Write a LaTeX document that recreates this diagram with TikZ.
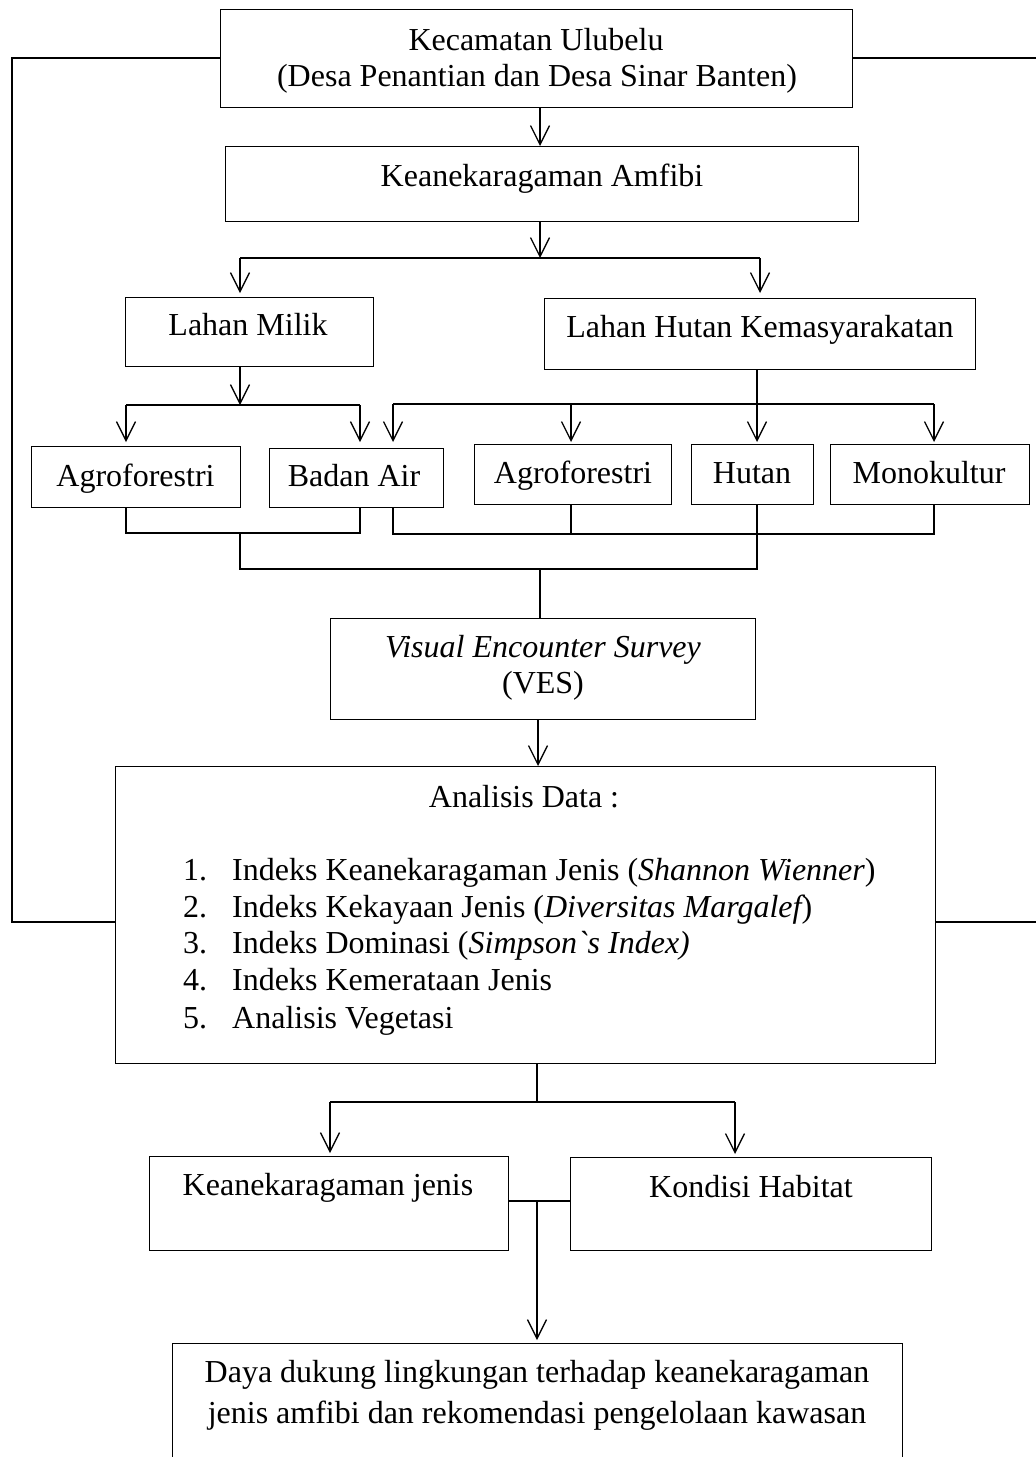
\documentclass[tikz,border=0pt]{standalone}
\usepackage{fontspec}
\setmainfont{Liberation Serif}
\usetikzlibrary{arrows.meta}
\begin{document}
\begin{tikzpicture}[x=1pt,y=-1pt,
  box/.style={draw=black, line width=1pt, inner sep=0pt, anchor=north west},
  txt/.style={anchor=base, inner sep=0pt, font=\fontsize{32}{36}\selectfont},
  ltxt/.style={txt, anchor=base west},
  conn/.style={line width=1.3pt},
  arr/.style={conn, -{Straight Barb[length=19pt,width=19pt,line width=1.3pt]}},
]
\clip (0,0) rectangle (1036,1457);
\fill[white] (0,0) rectangle (1036,1457);

% boxes
\node[box, minimum width=632pt, minimum height=98pt] (top) at (220,9) {};
\node[box, minimum width=633pt, minimum height=75pt] (amf) at (225,146) {};
\node[box, minimum width=248pt, minimum height=69pt] (milik) at (125,297) {};
\node[box, minimum width=431pt, minimum height=71pt] (hutanK) at (544,298) {};
\node[box, minimum width=209pt, minimum height=61pt] (agro1) at (31,446) {};
\node[box, minimum width=174pt, minimum height=59pt] (badan) at (269,448) {};
\node[box, minimum width=197pt, minimum height=60pt] (agro2) at (474,444) {};
\node[box, minimum width=122pt, minimum height=60pt] (hutan) at (691,444) {};
\node[box, minimum width=199pt, minimum height=60pt] (mono) at (830,444) {};
\node[box, minimum width=425pt, minimum height=101pt] (ves) at (330,618) {};
\node[box, minimum width=820pt, minimum height=297pt] (anal) at (115,766) {};
\node[box, minimum width=359pt, minimum height=94pt] (kj) at (149,1156) {};
\node[box, minimum width=361pt, minimum height=93pt] (kh) at (570,1157) {};
\node[box, minimum width=730pt, minimum height=140pt] (daya) at (172,1343) {};

% texts
\node[txt] (t1a) at (536,50) {Kecamatan Ulubelu};
\node[txt] (t1b) at (537,86) {(Desa Penantian dan Desa Sinar Banten)};
\node[txt] (t2) at (542,186) {Keanekaragaman Amfibi};
\node[txt] (t3) at (248,335) {Lahan Milik};
\node[txt] (t4) at (760,337) {Lahan Hutan Kemasyarakatan};
\node[txt] (t5) at (135.5,486) {Agroforestri};
\node[txt] (t6) at (354,486) {Badan Air};
\node[txt] (t7) at (573,483) {Agroforestri};
\node[txt] (t8) at (752,483) {Hutan};
\node[txt] (t9) at (929,483) {Monokultur};
\node[txt] (t10) at (543,657) {\textit{Visual Encounter Survey}};
\node[txt] (t11) at (543,693) {(VES)};
\node[txt] (t12) at (524,807) {Analisis Data :};
\node[ltxt] (n1) at (183,880) {1.};
\node[ltxt] (n2) at (183,917) {2.};
\node[ltxt] (n3) at (183,953) {3.};
\node[ltxt] (n4) at (183,990) {4.};
\node[ltxt] (n5) at (183,1028) {5.};
\node[ltxt] (i1) at (232,880) {Indeks Keanekaragaman Jenis ({\itshape Shannon Wienner})};
\node[ltxt] (i2) at (232,917) {Indeks Kekayaan Jenis ({\itshape Diversitas Margalef})};
\node[ltxt] (i3) at (232,953) {Indeks Dominasi ({\itshape Simpson\textasciigrave s Index)}};
\node[ltxt] (i4) at (232,990) {Indeks Kemerataan Jenis};
\node[ltxt] (i5) at (232,1028) {Analisis Vegetasi};
\node[txt] (t13) at (328,1195) {Keanekaragaman jenis};
\node[txt] (t14) at (751,1197) {Kondisi Habitat};
\node[txt] (t15) at (537,1382) {Daya dukung lingkungan terhadap keanekaragaman};
\node[txt] (t16) at (537,1423) {jenis amfibi dan rekomendasi pengelolaan kawasan};

% junction coordinates
\coordinate (x540) at (540,0);
\coordinate (j1) at (540,258);
\coordinate (j1l) at (240,258);
\coordinate (j1r) at (760,258);
\coordinate (j2) at (240,405);
\coordinate (j2l) at (126,405);
\coordinate (j2r) at (360,405);
\coordinate (j3l) at (393,404);
\coordinate (j3m) at (571,404);
\coordinate (j3h) at (757,404);
\coordinate (j3r) at (934,404);
\coordinate (j4l) at (126,533);
\coordinate (j4m) at (240,533);
\coordinate (j4r) at (360,533);
\coordinate (j5l) at (393,534);
\coordinate (j5m) at (571,534);
\coordinate (j5r) at (934,534);
\coordinate (j6l) at (240,569);
\coordinate (j6m) at (540,569);
\coordinate (j6r) at (757,569);
\coordinate (x538) at (538,0);
\coordinate (j8) at (537,1102);
\coordinate (j8l) at (330,1102);
\coordinate (j8r) at (735,1102);
\coordinate (j9) at (537,1201);
\coordinate (L1) at (12,58);
\coordinate (L2) at (12,922);
\coordinate (R1) at (1036,58);
\coordinate (R2) at (1036,922);

% connectors
\draw[arr] (top.south -| x540) -- (amf.north -| x540);
\draw[arr] (amf.south -| j1) -- (j1);
\draw[conn] (j1l) -- (j1r);
\draw[arr, shorten >=4pt] (j1l) -- (milik.north -| j1l);
\draw[arr, shorten >=5pt] (j1r) -- (hutanK.north -| j1r);

\draw[arr] (milik.south -| j2) -- (j2);
\draw[conn] (j2l) -- (j2r);
\draw[arr, shorten >=4pt] (j2l) -- (agro1.north -| j2l);
\draw[arr, shorten >=6pt] (j2r) -- (badan.north -| j2r);

\draw[arr, shorten >=2pt] (hutanK.south -| j3h) -- (hutan.north -| j3h);
\draw[conn] (j3l) -- (j3r);
\draw[arr, shorten >=6pt] (j3l) -- (badan.north -| j3l);
\draw[arr, shorten >=2pt] (j3m) -- (agro2.north -| j3m);
\draw[arr, shorten >=2pt] (j3r) -- (mono.north -| j3r);

\draw[conn] (agro1.south -| j4l) -- (j4l) -- (j4r) -- (badan.south -| j4r);
\draw[conn] (badan.south -| j5l) -- (j5l) -- (j5r) -- (mono.south -| j5r);
\draw[conn] (agro2.south -| j5m) -- (j5m);
\draw[conn] (j4m) -- (j6l) -- (j6r) -- (hutan.south -| j6r);
\draw[conn] (j6m) -- (ves.north -| j6m);

\draw[arr] (ves.south -| x538) -- (anal.north -| x538);

\draw[conn] (anal.south -| j8) -- (j8);
\draw[conn] (j8l) -- (j8r);
\draw[arr, shorten >=3pt] (j8l) -- (kj.north -| j8l);
\draw[arr, shorten >=3pt] (j8r) -- (kh.north -| j8r);

\draw[conn] (kj.east |- j9) -- (kh.west |- j9);
\draw[arr, shorten >=3pt] (j9) -- (daya.north -| j9);

\draw[conn] (top.west |- L1) -- (L1) -- (L2) -- (anal.west |- L2);
\draw[conn] (top.east |- R1) -- (R1);
\draw[conn] (anal.east |- R2) -- (R2);
\end{tikzpicture}
\end{document}
